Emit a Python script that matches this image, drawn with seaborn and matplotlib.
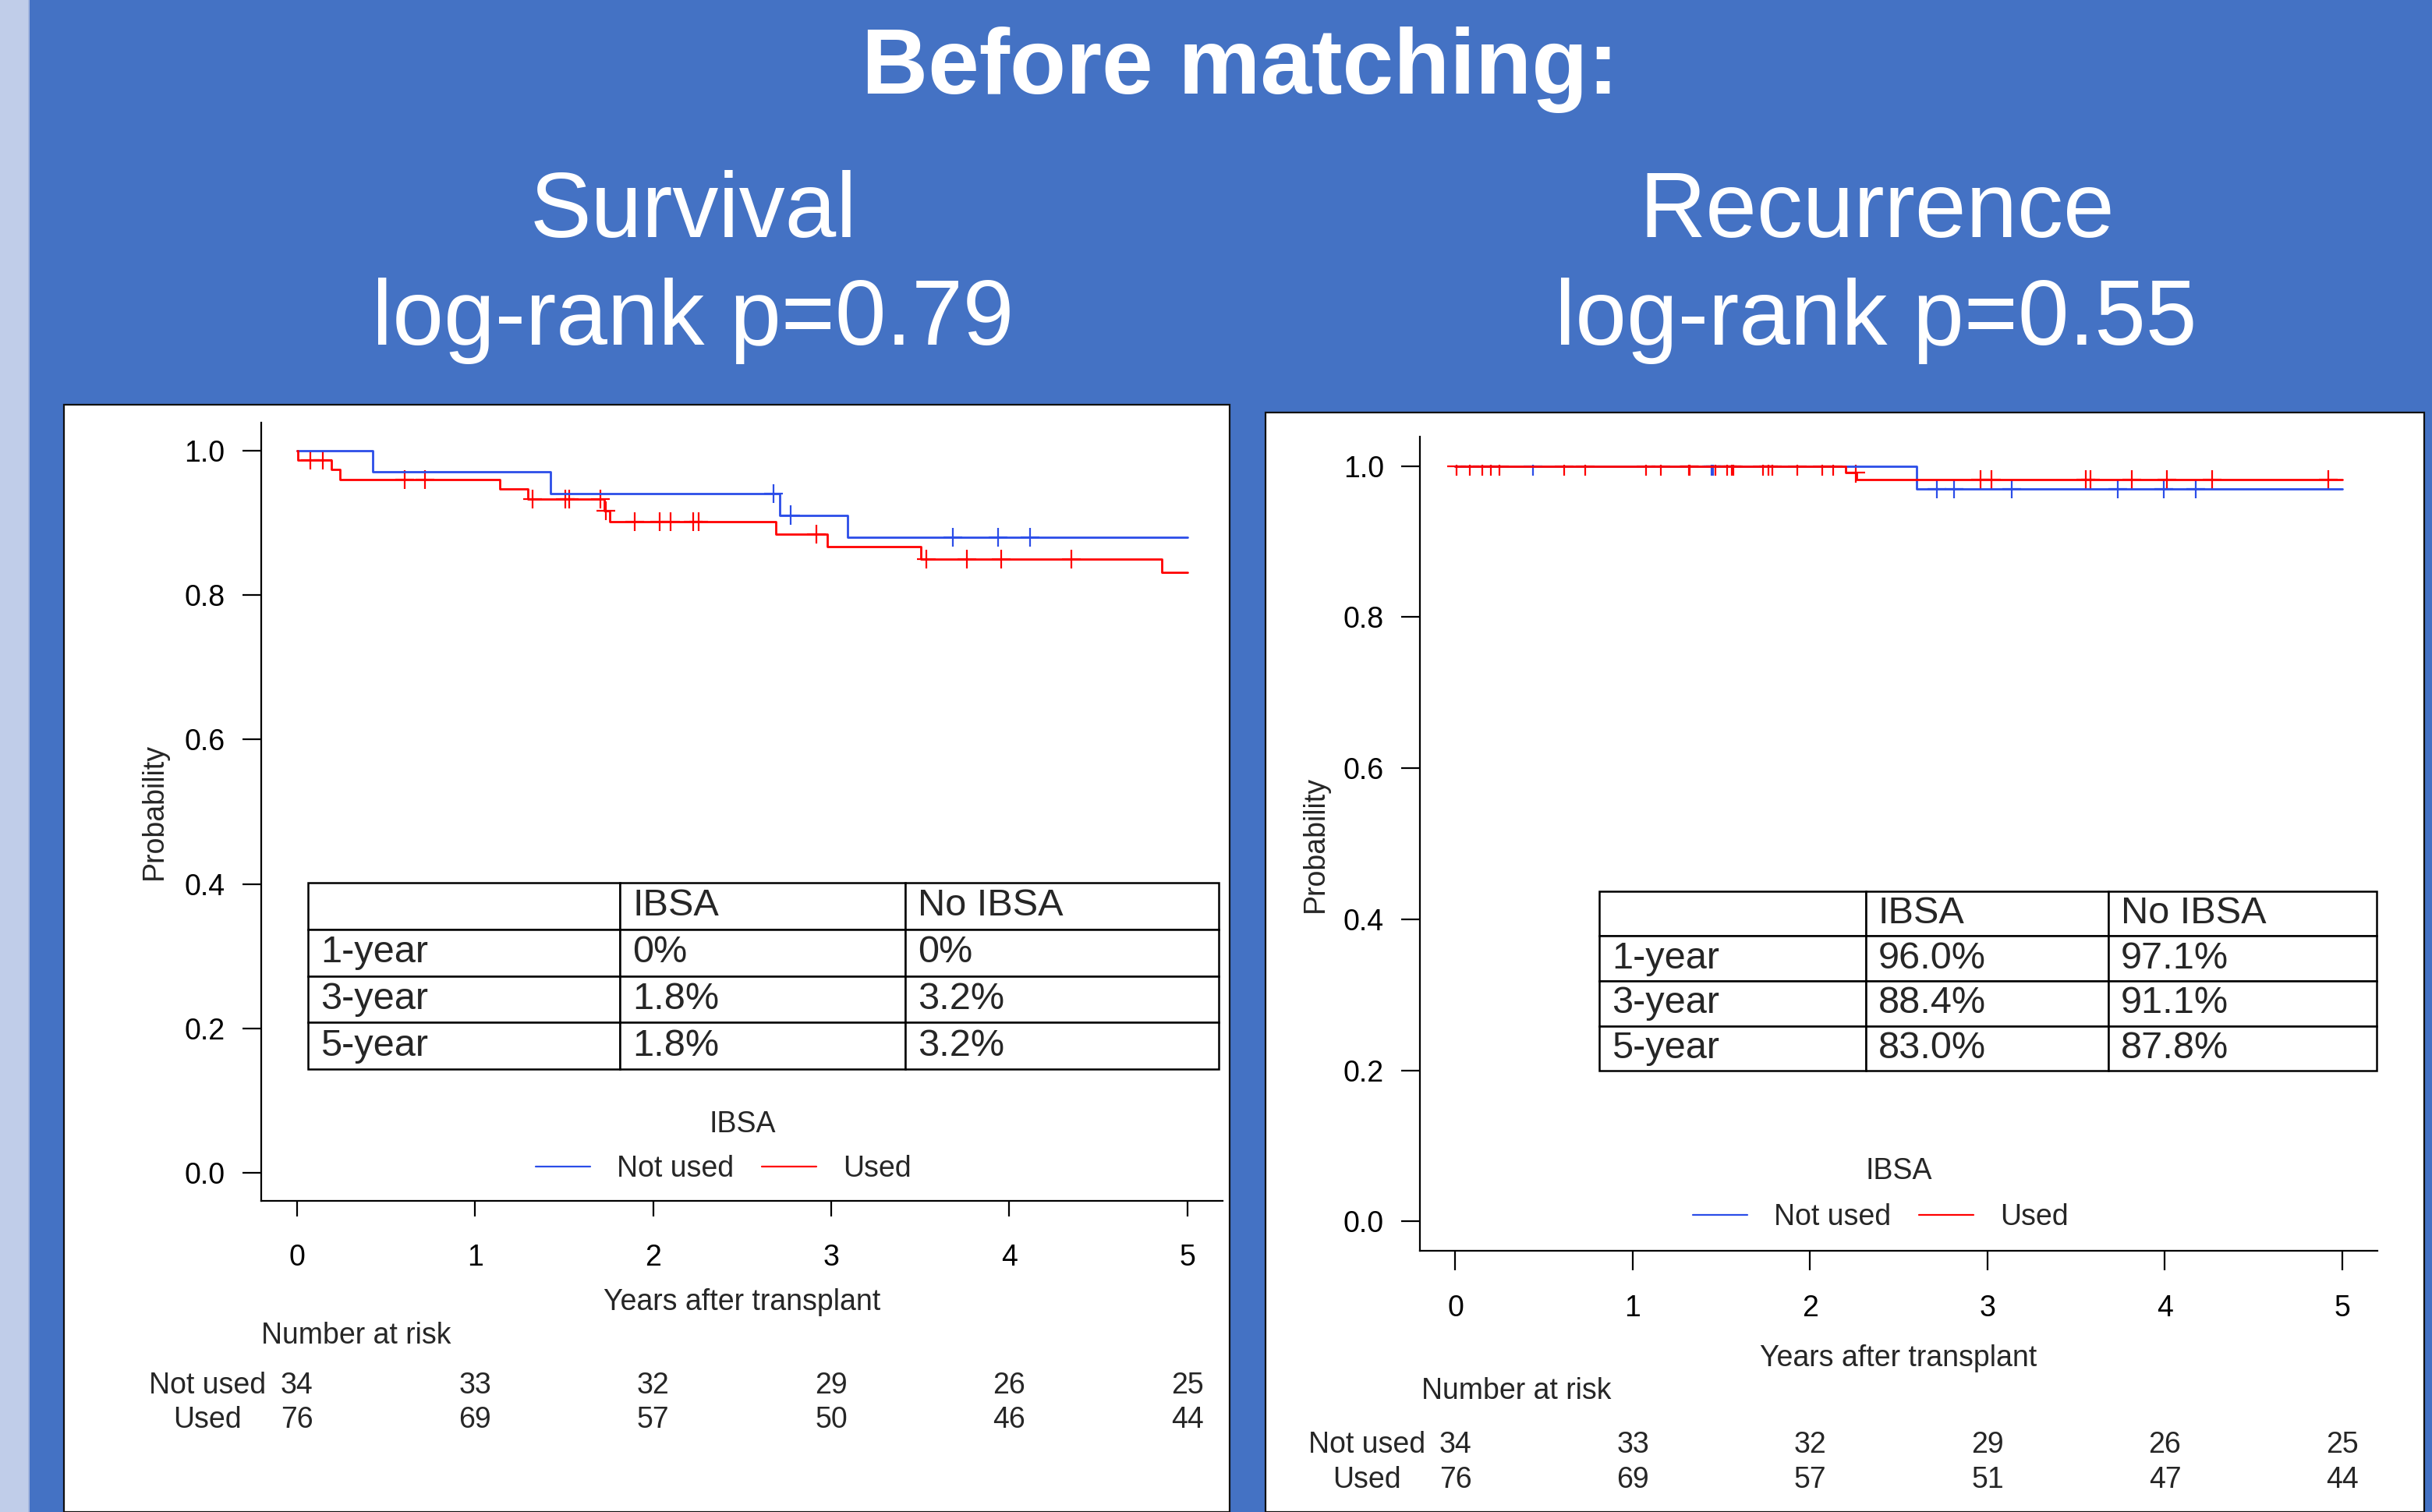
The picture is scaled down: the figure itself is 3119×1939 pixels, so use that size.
"""
plot.py
Kaplan-Meier style slide: survival and recurrence by IBSA use, before matching.
"""

import numpy as np
import pandas as pd
import matplotlib
matplotlib.use('Agg')
import matplotlib.pyplot as plt
import matplotlib.transforms as mtransforms
from matplotlib.patches import Rectangle
from matplotlib.lines import Line2D
import seaborn as sns

W, H = 3119, 1939
DPI = 100
PT = DPI / 72.0  # pixels per point

groups = ['Not used', 'Used']
palette = {'Not used': '#2b4de8', 'Used': '#ff0000'}

# --- survival panel: event times, survival after each event, censor times
surv_nu_times = [0.427, 1.424, 2.711, 3.094]
surv_nu_probs = [0.971, 0.941, 0.911, 0.880]
surv_nu_cens = [2.676, 2.773, 3.685, 3.938, 4.118]
surv_u_times = [0.005, 0.194, 0.242, 1.139, 1.296, 1.726, 1.758, 2.689, 2.978, 3.502, 4.857]
surv_u_probs = [0.987, 0.974, 0.960, 0.947, 0.933, 0.917, 0.902, 0.885, 0.867, 0.850, 0.832]
surv_u_cens = [0.077, 0.146, 0.606, 0.718, 1.325, 1.509, 1.529, 1.705, 1.736, 1.897,
               2.037, 2.099, 2.225, 2.255, 2.916, 3.533, 3.762, 3.956, 4.349]

# --- recurrence panel
rec_nu_times = [2.598]
rec_nu_probs = [0.970]
rec_nu_cens = [0.436, 1.443, 1.452, 2.715, 2.810, 3.135, 3.736, 3.993, 4.173]
rec_u_times = [2.200, 2.262]
rec_u_probs = [0.991, 0.982]
rec_u_cens = [0.007, 0.083, 0.151, 0.198, 0.249, 0.615, 0.730, 1.074, 1.157, 1.316,
              1.323, 1.468, 1.534, 1.560, 1.568, 1.732, 1.763, 1.787, 1.927, 2.069,
              2.130, 2.258, 2.960, 3.021, 3.553, 3.582, 3.814, 4.012, 4.266, 4.923]

# --- number at risk
risk_years = [0, 1, 2, 3, 4, 5]
surv_risk_nu = [34, 33, 32, 29, 26, 25]
surv_risk_u = [76, 69, 57, 50, 46, 44]
rec_risk_nu = [34, 33, 32, 29, 26, 25]
rec_risk_u = [76, 69, 57, 51, 47, 44]

# --- inset tables
table_cols = ['', 'IBSA', 'No IBSA']
table_rows = ['1-year', '3-year', '5-year']
surv_tab_ibsa = ['0%', '1.8%', '1.8%']
surv_tab_no = ['0%', '3.2%', '3.2%']
rec_tab_ibsa = ['96.0%', '88.4%', '83.0%']
rec_tab_no = ['97.1%', '91.1%', '87.8%']

y_ticks = [0.0, 0.2, 0.4, 0.6, 0.8, 1.0]

sns.set_style('ticks')
plt.rcParams['font.family'] = ['Liberation Sans', 'DejaVu Sans']

fig = plt.figure(figsize=(W / DPI, H / DPI), dpi=DPI)
fig.patch.set_facecolor('#4472C4')


def fx(x):
    return x / W


def fy(y):
    return 1 - y / H


def ptext(x, y, s, **kw):
    return fig.text(fx(x), fy(y), s, **kw)


# light strip on the slide's left edge
fig.patches.append(Rectangle((0, 0), fx(36), 1, transform=fig.transFigure,
                             facecolor='#C0CDE9', edgecolor='none', zorder=-3))
fig.patches.append(Rectangle((fx(36), 0), fx(1.5), 1, transform=fig.transFigure,
                             facecolor='#A3B6DE', edgecolor='none', zorder=-3))

# titles
ptext(1590, 120, 'Before matching:', color='white', fontsize=85, fontweight='bold',
      ha='center', va='baseline')
ptext(889, 304, 'Survival', color='white', fontsize=85, ha='center', va='baseline')
ptext(889, 442, 'log-rank p=0.79', color='white', fontsize=85, ha='center', va='baseline')
ptext(2407, 304, 'Recurrence', color='white', fontsize=85, ha='center', va='baseline')
ptext(2406, 442, 'log-rank p=0.55', color='white', fontsize=85, ha='center', va='baseline')


def steps(times, probs):
    t = [0.0] + list(times) + [5.0]
    s = [1.0] + list(probs) + [probs[-1]]
    return t, s


def draw_panel(curves, risk, tab_ibsa, tab_no, lay):
    # white panel behind the plot
    px0, py0, px1 = lay['panel']
    fig.patches.append(Rectangle((fx(px0), 0), fx(px1) - fx(px0), fy(py0),
                                 transform=fig.transFigure, facecolor='white',
                                 edgecolor='#111111', linewidth=1.6, zorder=-1))

    x0, y0, x1, y1 = lay['axes']
    ax = fig.add_axes([fx(x0), fy(y1), fx(x1) - fx(x0), fy(y0) - fy(y1)])
    ax.set_facecolor('none')

    line_rows, cens_rows = [], []
    for g, (times, probs, cens) in zip(groups, curves):
        t, s = steps(times, probs)
        line_rows += [(g, a, b) for a, b in zip(t, s)]
        level = np.array([1.0] + list(probs))
        for c in cens:
            cens_rows.append((g, c, level[np.searchsorted(times, c, side='right')]))
    lines = pd.DataFrame(line_rows, columns=['group', 't', 's'])
    marks = pd.DataFrame(cens_rows, columns=['group', 't', 's'])

    sns.lineplot(data=lines, x='t', y='s', hue='group', hue_order=groups,
                 palette=palette, estimator=None, sort=False, drawstyle='steps-post',
                 linewidth=2.0, legend=False, ax=ax)
    sns.scatterplot(data=marks, x='t', y='s', hue='group', hue_order=groups,
                    palette=palette, marker='+', s=300, linewidth=1.6,
                    legend=False, ax=ax)

    # the plot region is clipped just above probability 1
    clip = Rectangle((-1, -1), 7, 2.002, transform=ax.transData)
    for art in ax.lines + ax.collections:
        art.set_clip_path(clip)

    ax.set_xlim(-0.2, 5.198)
    ax.set_ylim(-0.039, 1.039)
    ax.set_xticks(risk_years)
    ax.set_yticks(y_ticks)
    ax.set_yticklabels([f'{v:.1f}' for v in y_ticks])
    ax.set_xlabel('')
    ax.set_ylabel('')
    for side in ['top', 'right']:
        ax.spines[side].set_visible(False)
    for side in ['left', 'bottom']:
        ax.spines[side].set_linewidth(1.6)
        ax.spines[side].set_color('black')
    ax.tick_params(axis='x', length=lay['xlen'] / PT, width=1.6, pad=lay['xpad'],
                   labelsize=27, colors='black')
    ax.tick_params(axis='y', length=lay['ylen'] / PT, width=1.6, pad=16,
                   labelsize=27, colors='black')

    ptext(*lay['ylabel'], 'Probability', fontsize=27, rotation=90, ha='center', va='center')
    ptext(*lay['xlabel'], 'Years after transplant', fontsize=27, ha='center', va='center')
    ptext(*lay['nar'], 'Number at risk', fontsize=27, ha='left', va='center')

    # number at risk rows
    trans = mtransforms.blended_transform_factory(ax.transData, fig.transFigure)
    for g, counts, ry in zip(groups, risk, lay['rows']):
        ptext(lay['row_label_x'], ry, g, fontsize=27, ha='center', va='center')
        for yr, n in zip(risk_years, counts):
            ax.text(yr, fy(ry), str(n), transform=trans, fontsize=27,
                    ha='center', va='center', clip_on=False)

    # legend
    ptext(*lay['leg_title'], 'IBSA', fontsize=27, ha='center', va='center')
    handles = [Line2D([], [], color=palette[g], lw=1.6) for g in groups]
    ax.legend(handles, groups, loc='center', bbox_to_anchor=(fx(lay['leg'][0]), fy(lay['leg'][1])),
              bbox_transform=fig.transFigure, ncol=2, frameon=False, fontsize=27,
              handlelength=1.87, handletextpad=0.9, columnspacing=0.96)

    # inset table
    tx0, ty0, tx1, ty1 = lay['table']
    aw, ah = x1 - x0, y1 - y0
    bbox = [(tx0 - x0) / aw, (y1 - ty1) / ah, (tx1 - tx0) / aw, (ty1 - ty0) / ah]
    cw = np.array(lay['colw'], dtype=float)
    cells = [[r, a, b] for r, a, b in zip(table_rows, tab_ibsa, tab_no)]
    tbl = ax.table(cellText=cells, colLabels=table_cols, colWidths=list(cw / cw.sum()),
                   cellLoc='left', colLoc='left', bbox=bbox)
    tbl.auto_set_font_size(False)
    tbl.set_fontsize(35)
    for (r, c), cell in tbl.get_celld().items():
        cell.set_linewidth(1.8)
        cell.set_edgecolor('black')
        cell.PAD = 16.0 / lay['colw'][c]
    return ax


left_layout = {
    'panel': (82, 519, 1577),
    'axes': (335, 542, 1568, 1540),
    'xlen': 20, 'ylen': 24.5, 'xpad': 25,
    'ylabel': (198, 1041), 'xlabel': (952, 1670), 'nar': (335, 1713),
    'rows': (1777, 1821), 'row_label_x': 266,
    'leg_title': (952, 1442), 'leg': (927.5, 1499),
    'table': (395, 1132, 1563, 1371), 'colw': (400, 366, 402),
}
right_layout = {
    'panel': (1623, 529, 3109),
    'axes': (1821, 560, 3049, 1604),
    'xlen': 25, 'ylen': 24, 'xpad': 22,
    'ylabel': (1687, 1082.5), 'xlabel': (2434.5, 1742), 'nar': (1822.7, 1784),
    'rows': (1853, 1898), 'row_label_x': 1752.6,
    'leg_title': (2435.5, 1502), 'leg': (2411.8, 1561),
    'table': (2051, 1142.6, 3048, 1373.3), 'colw': (341.5, 311.5, 344),
}

draw_panel([(surv_nu_times, surv_nu_probs, surv_nu_cens),
            (surv_u_times, surv_u_probs, surv_u_cens)],
           [surv_risk_nu, surv_risk_u], surv_tab_ibsa, surv_tab_no, left_layout)
draw_panel([(rec_nu_times, rec_nu_probs, rec_nu_cens),
            (rec_u_times, rec_u_probs, rec_u_cens)],
           [rec_risk_nu, rec_risk_u], rec_tab_ibsa, rec_tab_no, right_layout)

fig.savefig('out.png', dpi=DPI, facecolor=fig.get_facecolor())
